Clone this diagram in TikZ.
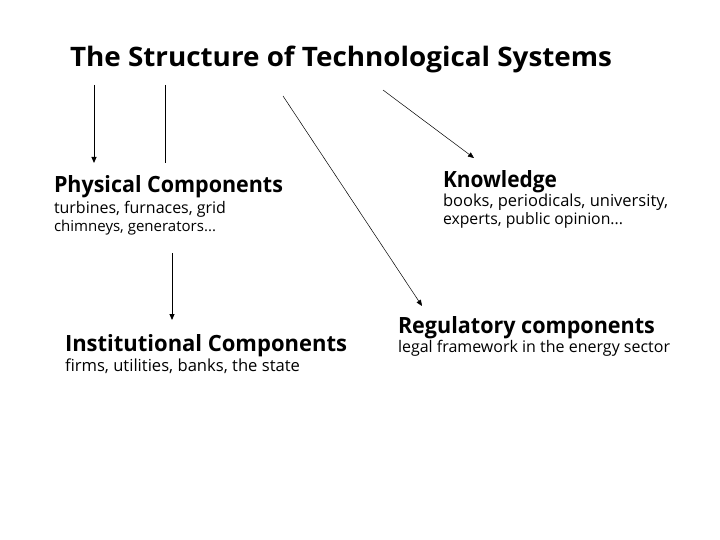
\documentclass[tikz,border=0pt]{standalone}
\usepackage{fontspec}
\setmainfont{Open Sans}
\usetikzlibrary{arrows.meta}
\newcommand{\fitw}[2]{\resizebox{#1}{!}{#2}}
\newcommand{\fitwh}[3]{\resizebox{#1}{#2}{#3}}
\tikzset{
  lbl/.style={anchor=base west, inner sep=0pt, outer sep=0pt, font=\bfseries},
  sub/.style={anchor=base west, inner sep=0pt, outer sep=0pt},
  arr/.style={-{Triangle[length=6pt,width=5pt]}, line width=0.9pt},
  diag/.style={-{Triangle[length=6pt,width=5pt]}, line width=0.5pt},
}
\begin{document}
\begin{tikzpicture}[x=1pt,y=-1pt]
\useasboundingbox (0,0) rectangle (720,540);
\fill[white] (0,0) rectangle (720,540);
\node[lbl] (title) at (70,67) {\fitwh{542pt}{20.5pt}{The Structure of Technological Systems}};
\node[lbl] (phys) at (54,193) {\fitwh{229pt}{17pt}{Physical Components}};
\node[sub] (phys1) at (54,214) {\fitw{172pt}{turbines, furnaces, grid}};
\node[sub] (phys2) at (54,232) {\fitw{162pt}{chimneys, generators...}};
\node[lbl] (know) at (443,188) {\fitwh{114pt}{17pt}{Knowledge}};
\node[sub] (know1) at (443,207) {\fitw{225pt}{books, periodicals, university,}};
\node[sub] (know2) at (443,225) {\fitw{180pt}{experts, public opinion...}};
\node[lbl] (inst) at (65,351) {\fitwh{282pt}{17pt}{Institutional Components}};
\node[sub] (inst1) at (65,371) {\fitw{235pt}{firms, utilities, banks, the state}};
\node[lbl] (reg) at (398,333) {\fitwh{257pt}{17pt}{Regulatory components}};
\node[sub] (reg1) at (398,352) {\fitw{272pt}{legal framework in the energy sector}};
\coordinate (a1s) at (94,85);   \coordinate (a1e) at (94,163);
\coordinate (a2s) at (165,85);  \coordinate (a2e) at (165,163);
\coordinate (a3s) at (283,96);  \coordinate (a3e) at (422,306);
\coordinate (a4s) at (383,90);  \coordinate (a4e) at (474,158);
\coordinate (a5s) at (172,253); \coordinate (a5e) at (172,320);
\draw[arr] (a1s) -- (a1e);
\draw[line width=0.9pt] (a2s) -- (a2e);
\draw[diag] (a3s) -- (a3e);
\draw[diag] (a4s) -- (a4e);
\draw[arr] (a5s) -- (a5e);
\end{tikzpicture}
\end{document}
